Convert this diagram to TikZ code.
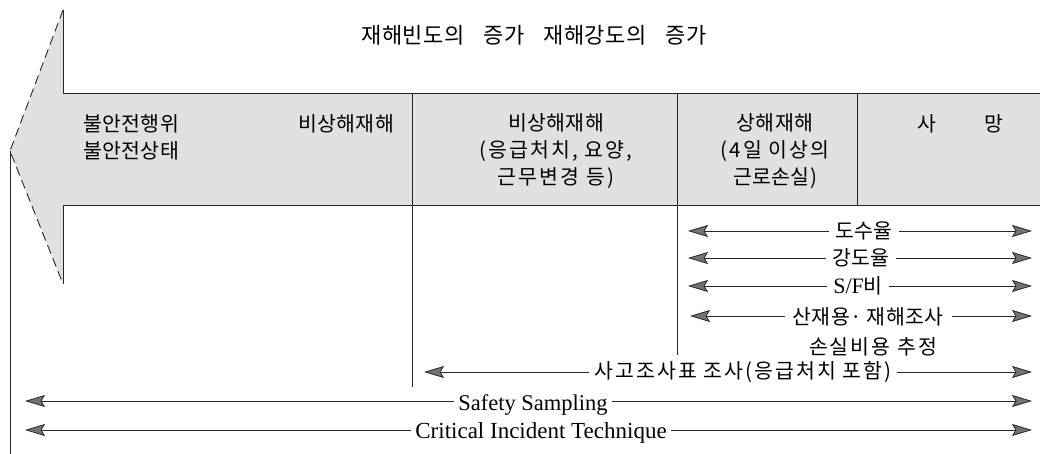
\documentclass[tikz,border=0pt]{standalone}
\usepackage{fontspec}
\setmainfont{Liberation Serif}
\newfontfamily\kr{Noto Sans CJK KR}[LetterSpace=2]
\newfontfamily\krw{Noto Sans CJK KR}[LetterSpace=10]
\usetikzlibrary{arrows.meta}
\begin{document}
\begin{tikzpicture}[x=1pt,y=-1pt,
  every node/.style={inner sep=0pt, outer sep=0pt},
  ln/.style={line width=0.9pt, black!85},
  headdash/.style={line width=0.9pt, black!85, dash pattern=on 9pt off 5pt},
  bandfill/.style={fill=black!12},
  kt/.style={font=\kr\fontsize{20.5}{27}\selectfont},
  kw/.style={font=\krw\fontsize{20.5}{27}\selectfont},
  tt/.style={font=\kr\fontsize{22}{22}\selectfont},
  lt/.style={font=\fontsize{22.5}{24}\selectfont},
  dbl/.style={line width=0.8pt, black!85,
    {Stealth[length=20pt,width=12pt,inset=3.5pt,fill=black!55]}-{Stealth[length=20pt,width=12pt,inset=3.5pt,fill=black!55]}},
  lbl/.style={kt, fill=white, inner xsep=6pt, inner ysep=1pt},
  llbl/.style={lt, fill=white, inner xsep=4pt, inner ysep=1pt, anchor=base},
]
\useasboundingbox (0,0) rectangle (1040,454);

% arrow-shaped band
\coordinate (tip) at (10,151);
\coordinate (htop) at (63,10);
\coordinate (hbot) at (63,284);
\coordinate (bandTL) at (63,93);
\coordinate (bandBL) at (63,205);
\coordinate (bandTR) at (1040,93);
\coordinate (bandBR) at (1040,205);
\coordinate (leftend) at (10,454);

\fill[bandfill] (htop) -- (bandTL) -- (bandTR) -- (bandBR) -- (bandBL) -- (hbot) -- (tip) -- cycle;
\draw[headdash] (htop) -- (tip) -- (hbot);
\draw[ln] (htop) -- (bandTL) -- (bandTR);
\draw[ln] (hbot) -- (bandBL) -- (bandBR);
\draw[ln] (tip) -- (leftend);

% dividers
\coordinate (d1t) at (412,93);  \coordinate (d1b) at (412,387);
\coordinate (d2t) at (677,93);  \coordinate (d2b) at (677,355);
\coordinate (d3t) at (857,93);  \coordinate (d3b) at (857,205);
\draw[ln] (d1t) -- (d1b);
\draw[ln] (d2t) -- (d2b);
\draw[ln] (d3t) -- (d3b);

% texts
\node[tt] (title) at (534,35) {재해빈도의\hspace{19pt}증가\hspace{19pt}재해강도의\hspace{19pt}증가};
\node[kt, align=left, anchor=west] (unsafe) at (83,137) {불안전행위\\불안전상태};
\node[kt] (nd1) at (346,124) {비상해재해};
\node[kt, align=center] (nd2) at (556,151) {비상해재해\\{\krw(응급처치, 요양,}\\{\krw 근무변경 등)}};
\node[kt, align=center] (inj) at (775,151) {상해재해\\{\krw(4일 이상의}\\근로손실)};
\node[kt] (death) at (960,124) {사\hspace{48pt}망};

% measurement arrows
\coordinate (a1l) at (688,231); \coordinate (a1r) at (1032,231);
\coordinate (a2l) at (688,258); \coordinate (a2r) at (1032,258);
\coordinate (a3l) at (688,286); \coordinate (a3r) at (1032,286);
\coordinate (a4l) at (690,316); \coordinate (a4r) at (1032,316);
\coordinate (a5l) at (424,372); \coordinate (a5r) at (1032,372);
\coordinate (a6l) at (25,401);  \coordinate (a6r) at (1032,401);
\coordinate (a7l) at (25,430);  \coordinate (a7r) at (1032,430);

\draw[dbl] (a1l) -- (a1r);
\draw[dbl] (a2l) -- (a2r);
\draw[dbl] (a3l) -- (a3r);
\draw[dbl] (a4l) -- (a4r);
\draw[dbl] (a5l) -- (a5r);
\draw[dbl] (a6l) -- (a6r);
\draw[dbl] (a7l) -- (a7r);

\node[lbl] (dosu) at (864,231) {도수율};
\node[lbl] (gangdo) at (861,258) {강도율};
\node[lbl] (sf) at (858,286) {{\rmfamily\fontsize{22}{24}\selectfont S/F}비};
\node[lbl, inner xsep=8pt] (sanjae) at (868,317) {산재용· 재해조사};
\node[kw] (sonsil) at (873,347) {손실비용 추정};
\node[lbl, kw] (sago) at (743,372) {사고조사표 조사(응급처치 포함)};
\node[llbl] (safety) at (533,410) {Safety Sampling};
\node[llbl, font=\fontsize{23}{24}\selectfont] (cit) at (541,438) {Critical Incident Technique};
\end{tikzpicture}
\end{document}
